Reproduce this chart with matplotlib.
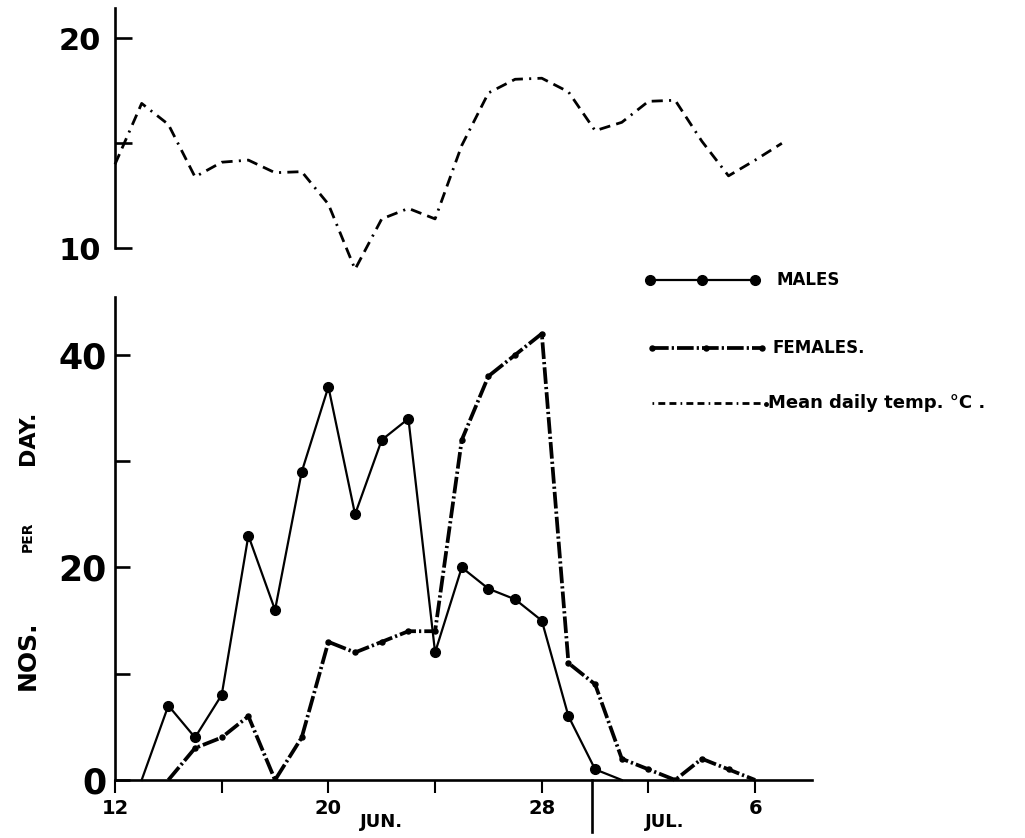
import matplotlib
matplotlib.use("Agg")
import matplotlib.pyplot as plt
import matplotlib.transforms as mtransforms
from matplotlib.lines import Line2D

plt.rcParams["font.family"] = ["DejaVu Sans"]
plt.rcParams["lines.scale_dashes"] = False

# Days counted from June (31 = 1 July)
temp_days = list(range(12, 38))
temp_c = [14.0, 16.9, 15.9, 13.4, 14.1, 14.2, 13.6, 13.65, 12.1, 9.0, 11.4, 11.9, 11.4,
          14.9, 17.4, 18.05, 18.1, 17.45, 15.6, 16.0, 17.0, 17.05, 15.1, 13.45, 14.2, 15.0]

male_days = list(range(13, 32))
males = [0, 7, 4, 8, 23, 16, 29, 37, 25, 32, 34, 12, 20, 18, 17, 15, 6, 1, 0]

female_days = list(range(14, 37))
females = [0, 3, 4, 6, 0, 4, 13, 12, 13, 14, 14, 32, 38, 40, 42, 11, 9, 2, 1, 0, 2, 1, 0]

x_ticks = [12, 16, 20, 24, 28, 32, 36]
x_tick_labels = ["12", "", "20", "", "28", "", "6"]
count_ticks = [0, 10, 20, 30, 40]
count_tick_labels = ["0", "", "20", "", "40"]
temp_ticks = [10, 15, 20]
temp_tick_labels = ["10", "", "20"]
month_break = 29.9
month_labels = [("JUN.", 22.0), ("JUL.", 32.6)]

W, H = 1025, 838
fig = plt.figure(figsize=(W / 100, H / 100), dpi=100)
fig.patch.set_facecolor("white")


def fx(x):
    return x / W


def fy(y):
    return 1 - y / H


XMIN, XMAX = 12, 38.13
TEMP_DASHES = (8, 4.5, 8, 4.5, 1.5, 4.5)
FEMALE_DASHES = (12, 2.2, 1.6, 2.2)

# ---- temperature panel ----
ax_t = fig.add_axes([fx(115), fy(248.3), fx(697), 240 / H])
ax_t.set_xlim(XMIN, XMAX)
ax_t.set_ylim(10, 21.43)
for s in ["top", "right", "bottom"]:
    ax_t.spines[s].set_visible(False)
ax_t.spines["left"].set_linewidth(1.9)
ax_t.set_xticks([])
ax_t.set_yticks(temp_ticks)
ax_t.set_yticklabels(temp_tick_labels, fontsize=22, fontweight="bold")
ax_t.tick_params(axis="y", direction="in", length=12, width=1.9, pad=10)
ax_t.plot(temp_days, temp_c, color="black", lw=2.0, dashes=TEMP_DASHES,
          clip_on=False)

# ---- counts panel ----
ax_b = fig.add_axes([fx(115), fy(780), fx(697), 483 / H])
ax_b.set_xlim(XMIN, XMAX)
ax_b.set_ylim(0, 45.45)
for s in ["top", "right"]:
    ax_b.spines[s].set_visible(False)
for s in ["left", "bottom"]:
    ax_b.spines[s].set_linewidth(1.9)
ax_b.set_yticks(count_ticks)
ax_b.set_yticklabels(count_tick_labels, fontsize=25, fontweight="bold")
ax_b.tick_params(axis="y", direction="in", length=11, width=1.9, pad=6)
ax_b.set_xticks(x_ticks)
ax_b.set_xticklabels(x_tick_labels, fontsize=14, fontweight="bold")
ax_b.tick_params(axis="x", direction="out", length=9, width=1.5, pad=5)

ax_b.plot(male_days, males, color="black", lw=1.6, marker="o", ms=7,
          markevery=list(range(1, len(males) - 1)), clip_on=False, zorder=3)
ax_b.plot(female_days, females, color="black", lw=2.7, dashes=FEMALE_DASHES,
          clip_on=False, zorder=2)
ax_b.plot(female_days[1:-1], females[1:-1], ls="none", marker="o", ms=3.6,
          color="black", zorder=2)

blend = mtransforms.blended_transform_factory(ax_b.transData, ax_b.transAxes)
ax_b.plot([month_break, month_break], [0, -0.108], color="black", lw=1.9,
          transform=blend, clip_on=False)
for txt, xpos in month_labels:
    ax_b.text(xpos, -0.087, txt, transform=blend, ha="center", va="center",
              fontsize=13, fontweight="bold")

# ---- axis title ----
fig.text(fx(28), fy(655), "NOS.", rotation=90, ha="center", va="center",
         fontsize=18, fontweight="bold")
fig.text(fx(28), fy(537), "PER", rotation=90, ha="center", va="center",
         fontsize=10, fontweight="bold")
fig.text(fx(28), fy(438), "DAY.", rotation=90, ha="center", va="center",
         fontsize=16, fontweight="bold")

# ---- key ----
def key_line(x0, x1, y, **kw):
    fig.add_artist(Line2D([fx(x0), fx(x1)], [fy(y), fy(y)],
                          transform=fig.transFigure, color="black", **kw))


key_line(650, 755, 280, lw=1.6)
fig.add_artist(Line2D([fx(650), fx(702), fx(755)], [fy(280)] * 3,
                      transform=fig.transFigure, ls="none", marker="o",
                      ms=7, color="black"))
fig.text(fx(777), fy(280), "MALES", ha="left", va="center", fontsize=12,
         fontweight="bold")

key_line(652, 762, 348, lw=2.7, dashes=FEMALE_DASHES)
fig.add_artist(Line2D([fx(652), fx(706), fx(762)], [fy(348)] * 3,
                      transform=fig.transFigure, ls="none", marker="o",
                      ms=3.6, color="black"))
fig.text(fx(772), fy(348), "FEMALES.", ha="left", va="center", fontsize=12,
         fontweight="bold")

key_line(652, 764, 403, lw=2.0, dashes=(1.2, 3, 5, 3, 5, 3))
fig.add_artist(Line2D([fx(766)], [fy(404)], transform=fig.transFigure,
                      ls="none", marker="o", ms=2.5, color="black"))
fig.text(fx(768), fy(403), "Mean daily temp. °C .", ha="left", va="center",
         fontsize=13, fontweight="bold")

fig.savefig("out.png", dpi=100, facecolor="white")
